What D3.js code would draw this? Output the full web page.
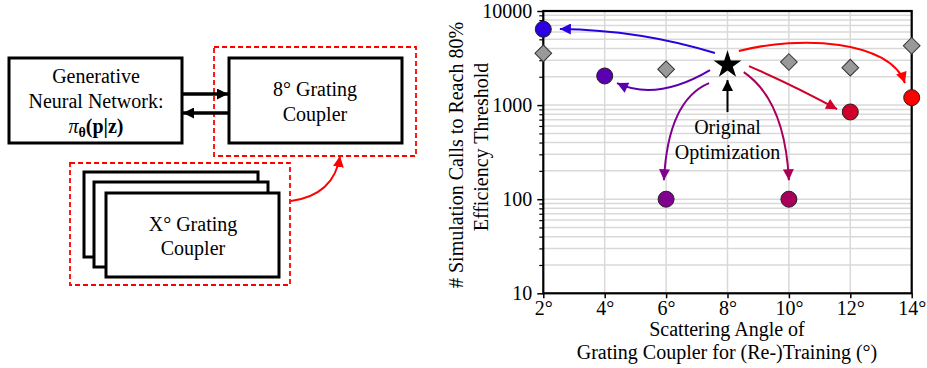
<!DOCTYPE html>
<html><head><meta charset="utf-8">
<script src="https://cdn.jsdelivr.net/npm/d3@7"></script>
<style>
html,body{margin:0;padding:0;background:#fff;}
svg{display:block;}
svg text{font-family:"Liberation Serif","Times New Roman",Times,"DejaVu Serif","Noto Serif",serif;}
</style></head>
<body>
<svg id="c" width="927" height="368"></svg>
<script>
// ---- data ----
const angles = [2, 4, 6, 8, 10, 12, 14];
const xTickLabels = ["2°", "4°", "6°", "8°", "10°", "12°", "14°"];
const yTickValues = [10, 100, 1000, 10000];
const yTickLabels = ["10", "100", "1000", "10000"];
// baseline (training from scratch) — gray diamonds
const baseAngles = [2, 6, 10, 12, 14];
const baseValues = [3550, 2400, 2870, 2500, 4270];
// original optimization — star
const origAngle = 8;
const origValue = 2670;
// retrained from 8° network — colored circles
const retrainAngles = [2, 4, 6, 10, 12, 14];
const retrainValues = [6400, 2040, 100, 100, 845, 1200];
const retrainColors = ["#2a00e0", "#5a00b0", "#800090", "#a8005a", "#d0002a", "#ff0000"];
// annotation arrows in data units: quadratic [x0,y0, cx,cy, x1,y1] or cubic [x0,y0, c1x,c1y, c2x,c2y, x1,y1]
const arrowPaths = [
  [7.59, 3573, 5.15, 6281, 2.54, 6440],
  [7.43, 2356, 5.69, 1089, 4.40, 1714],
  [7.40, 1714, 6.06, 1130, 5.93, 159],
  [8.53, 2244, 9.87, 1130, 10.0, 159],
  [8.70, 2600, 10.2, 1592, 11.57, 906],
  [8.37, 3753, 10.36, 5557, 13.29, 4909, 13.78, 1714]
];
const arrowColors = ["#2a00e0", "#5a00b0", "#800090", "#a8005a", "#d0002a", "#ff0000"];
const pointerFrom = [8, 843];
const pointerTo = [8, 1845];
const annotationLines = ["Original", "Optimization"];
const yTitle = ["# Simulation Calls to Reach 80%", "Efficiency Threshold"];
const xTitle = ["Scattering Angle of", "Grating Coupler for (Re-)Training (°)"];

const svg = d3.select("#c");
const FS = 20;

// ---------- left diagram ----------
const dg = svg.append("g");
const defs = svg.append("defs");
function marker(id, color, w, h) {
  defs.append("marker").attr("id", id).attr("viewBox", "0 0 10 10")
    .attr("refX", 10).attr("refY", 5).attr("markerUnits", "userSpaceOnUse")
    .attr("markerWidth", w).attr("markerHeight", h).attr("orient", "auto")
    .append("path").attr("d", "M0,0L10,5L0,10Z").attr("fill", color);
}
marker("mBlack", "#000", 12, 11);
marker("mRedD", "#ff0000", 11, 11);
arrowColors.forEach((c, i) => marker("m" + i, c, 13, 11));
marker("mPtr", "#000", 13, 11);

function box(x, y, w, h) {
  dg.append("rect").attr("x", x).attr("y", y).attr("width", w).attr("height", h)
    .attr("fill", "#fff").attr("stroke", "#000").attr("stroke-width", 3);
}
function dashed(x, y, w, h) {
  dg.append("rect").attr("x", x).attr("y", y).attr("width", w).attr("height", h)
    .attr("fill", "none").attr("stroke", "#ff0000").attr("stroke-width", 1.8)
    .attr("stroke-dasharray", "5,3");
}
function txt(x, y, s) {
  return dg.append("text").attr("x", x).attr("y", y).attr("text-anchor", "middle")
    .attr("font-size", FS).text(s);
}
box(9, 58, 173, 85);
txt(96, 83, "Generative");
txt(96, 108, "Neural Network:");
const pt = dg.append("text").attr("x", 96).attr("y", 133).attr("text-anchor", "middle").attr("font-size", FS);
pt.append("tspan").attr("font-style", "italic").text("π");
pt.append("tspan").attr("font-weight", "bold").attr("font-size", 14).attr("dy", 4).text("θ");
pt.append("tspan").attr("font-weight", "bold").attr("dy", -4).text("(p|z)");

box(229, 58, 173, 85);
txt(315, 96, "8° Grating");
txt(315, 121, "Coupler");
dashed(214, 47, 202, 109);

dg.append("line").attr("x1", 183).attr("y1", 94).attr("x2", 228).attr("y2", 94)
  .attr("stroke", "#000").attr("stroke-width", 3.5).attr("marker-end", "url(#mBlack)");
dg.append("line").attr("x1", 228).attr("y1", 113).attr("x2", 183).attr("y2", 113)
  .attr("stroke", "#000").attr("stroke-width", 3.5).attr("marker-end", "url(#mBlack)");

box(84, 172, 174, 85);
box(94, 182, 174, 85);
box(106, 193, 173, 84);
txt(193, 231, "X° Grating");
txt(193, 255, "Coupler");
dashed(70, 163, 220, 122);
dg.append("path").attr("d", "M291,201 Q334,195 340,156").attr("fill", "none")
  .attr("stroke", "#ff0000").attr("stroke-width", 1.8).attr("marker-end", "url(#mRedD)");

// ---------- chart ----------
const L = 543.3, R = 911.7, T = 11, B = 293.3;
const x = d3.scaleLinear().domain([2, 14]).range([L, R]);
const y = d3.scaleLog().domain([10, 10000]).range([B, T]);
const cg = svg.append("g");

// grid
const minor = [];
[10, 100, 1000].forEach(d => { for (let k = 1; k <= 9; k++) minor.push(d * k); });
minor.push(10000);
cg.append("g").selectAll("line").data(minor).join("line")
  .attr("x1", L).attr("x2", R).attr("y1", d => y(d)).attr("y2", d => y(d))
  .attr("stroke", "#d9d9d9").attr("stroke-width", 1.5);
cg.append("g").selectAll("line").data(angles).join("line")
  .attr("x1", d => x(d)).attr("x2", d => x(d)).attr("y1", T).attr("y2", B)
  .attr("stroke", "#d9d9d9").attr("stroke-width", 1.5);

// frame
cg.append("rect").attr("x", L).attr("y", T).attr("width", R - L).attr("height", B - T)
  .attr("fill", "none").attr("stroke", "#000").attr("stroke-width", 2.2);

// y axis
const yAxis = d3.axisLeft(y).tickValues(yTickValues).tickFormat((d, i) => yTickLabels[i]).tickSize(6).tickPadding(5);
const ya = cg.append("g").attr("transform", `translate(${L},0)`).call(yAxis);
ya.attr("font-family", null);
ya.select(".domain").remove();
ya.selectAll(".tick line").attr("stroke", "#000").attr("stroke-width", 1.5);
ya.selectAll(".tick text").attr("font-size", FS).attr("fill", "#000");
const yMinor = d3.axisLeft(y).tickValues(minor.filter(d => !yTickValues.includes(d))).tickFormat("").tickSize(4);
const ym = cg.append("g").attr("transform", `translate(${L},0)`).call(yMinor);
ym.select(".domain").remove();
ym.selectAll(".tick line").attr("stroke", "#000").attr("stroke-width", 1.2);

// x axis
const xAxis = d3.axisBottom(x).tickValues(angles).tickFormat((d, i) => xTickLabels[i]).tickSize(5).tickPadding(3);
const xa = cg.append("g").attr("transform", `translate(0,${B})`).call(xAxis);
xa.attr("font-family", null);
xa.select(".domain").remove();
xa.selectAll(".tick line").attr("stroke", "#000").attr("stroke-width", 1.5);
xa.selectAll(".tick text").attr("font-size", FS).attr("fill", "#000");

// titles
cg.append("text").attr("x", 727).attr("y", 336).attr("text-anchor", "middle").attr("font-size", FS).text(xTitle[0]);
cg.append("text").attr("x", 727).attr("y", 359).attr("text-anchor", "middle").attr("font-size", FS).text(xTitle[1]);
cg.append("text").attr("transform", "translate(463,155) rotate(-90)").attr("text-anchor", "middle").attr("font-size", FS).text(yTitle[0]);
cg.append("text").attr("transform", "translate(488,147) rotate(-90)").attr("text-anchor", "middle").attr("font-size", FS).text(yTitle[1]);

// arrows
arrowPaths.forEach((a, i) => {
  const p = d3.path();
  p.moveTo(x(a[0]), y(a[1]));
  if (a.length === 6) p.quadraticCurveTo(x(a[2]), y(a[3]), x(a[4]), y(a[5]));
  else p.bezierCurveTo(x(a[2]), y(a[3]), x(a[4]), y(a[5]), x(a[6]), y(a[7]));
  cg.append("path").attr("d", p.toString()).attr("fill", "none")
    .attr("stroke", arrowColors[i]).attr("stroke-width", 2).attr("marker-end", `url(#m${i})`);
});
cg.append("line").attr("x1", x(pointerFrom[0])).attr("y1", y(pointerFrom[1]))
  .attr("x2", x(pointerTo[0])).attr("y2", y(pointerTo[1]))
  .attr("stroke", "#000").attr("stroke-width", 2).attr("marker-end", "url(#mPtr)");

// annotation text
annotationLines.forEach((s, i) => {
  cg.append("text").attr("x", x(origAngle)).attr("y", 134 + i * 25).attr("text-anchor", "middle")
    .attr("font-size", FS).text(s);
});

// diamonds
cg.append("g").selectAll("path").data(baseAngles).join("path")
  .attr("transform", (d, i) => `translate(${x(d)},${y(baseValues[i])}) rotate(45)`)
  .attr("d", d3.symbol(d3.symbolSquare, 140)())
  .attr("fill", "#999").attr("stroke", "#333").attr("stroke-width", 1);

// star
cg.append("path").attr("transform", `translate(${x(origAngle)},${y(origValue)})`)
  .attr("d", d3.symbol(d3.symbolStar, 240)()).attr("fill", "#000");

// circles
cg.append("g").selectAll("circle").data(retrainAngles).join("circle")
  .attr("cx", d => x(d)).attr("cy", (d, i) => y(retrainValues[i])).attr("r", 8)
  .attr("fill", (d, i) => retrainColors[i]).attr("stroke", "#222").attr("stroke-width", 1);
</script>
</body></html>
